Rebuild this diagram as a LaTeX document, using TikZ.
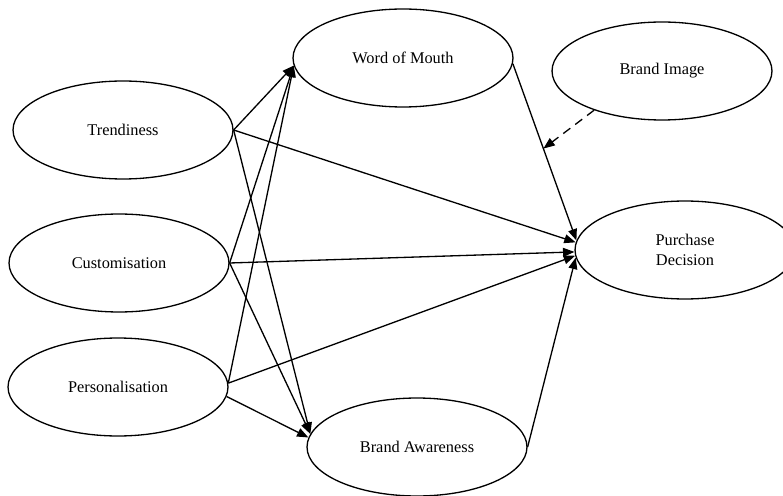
\documentclass[tikz,border=0pt]{standalone}
\usepackage{fontspec}
\setmainfont{Liberation Serif}
\usepackage{tikz}
\usetikzlibrary{shapes.geometric, arrows.meta, calc}

\tikzset{
	construct/.style={draw, ellipse, line width=0.75pt, minimum width=4.4cm, minimum height=1.96cm, inner sep=0pt, align=center, font=\fontsize{9.3}{11.8}\selectfont},
	link/.style={line width=0.75pt, -{Triangle[length=6.5pt, width=5pt]}},
	moderate/.style={link, dash pattern=on 5pt off 3.5pt}
}

\begin{document}
\begin{tikzpicture}[x=0.02cm, y=-0.02cm]
		\useasboundingbox (0,0) rectangle (783,496);
		
		\node[construct] (tr) at (123,130) {Trendiness};
		\node[construct] (cu) at (119,263) {Customisation};
		\node[construct] (pe) at (118,387) {Personalisation};
		\node[construct] (wom) at (403,58) {Word of Mouth};
		\node[construct] (bi) at (662,71) {Brand Image};
		\node[construct] (pd) at (685,250) {Purchase\\Decision};
		\node[construct] (ba) at (417,447) {Brand Awareness};
		
		\foreach \from/\to in {
			tr.east/wom.184,
			cu.east/wom.184,
			pe.2/wom.184,
			tr.east/pd.176,
			cu.east/pd.181,
			pe.2/pd.183,
			tr.east/ba.173,
			cu.east/ba.173,
			pe.-5/ba.175,
			wom.-3/pd.175,
			ba.east/pd.184
		}{
			\draw[link] (\from) -- (\to);
		}
		
		\coordinate (mod) at ($(wom.-3)!0.48!(pd.175)$);
		\draw[moderate] (bi.210) -- (mod);
	\end{tikzpicture}
\end{document}
